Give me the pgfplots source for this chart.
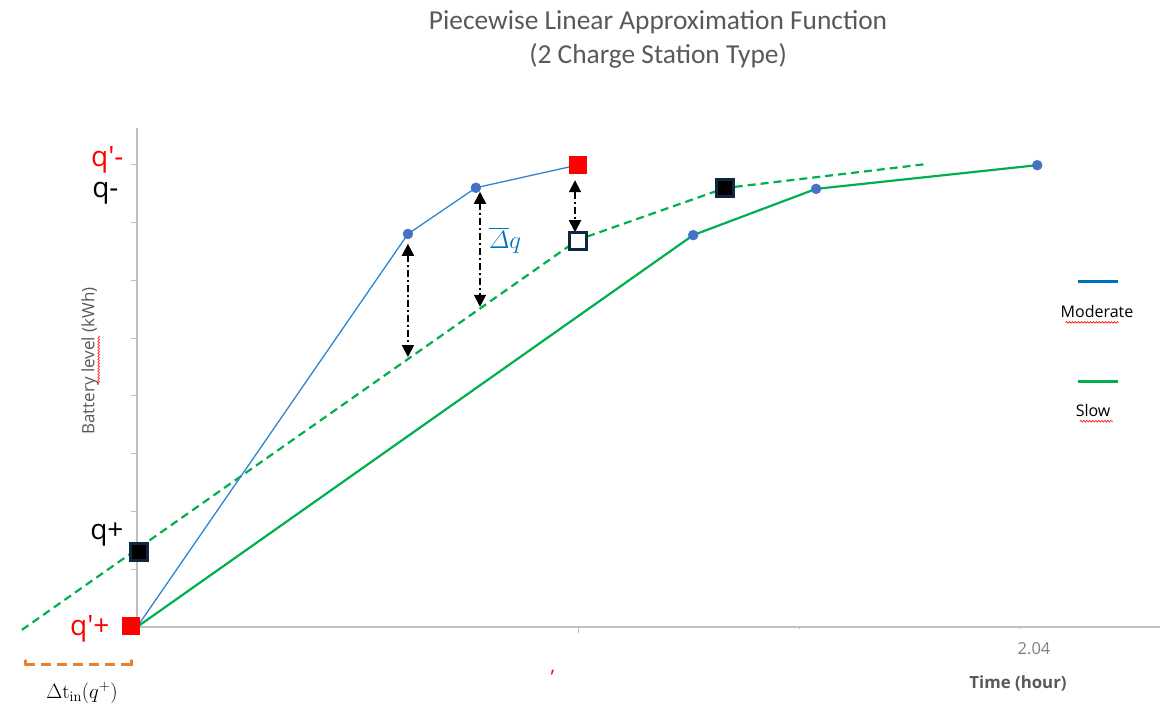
\documentclass[border=0pt]{standalone}
\usepackage{amsmath}
\usepackage[no-math]{fontspec}
\setmainfont{Open Sans}
\newfontfamily\titlefont{Carlito}
\usepackage{pgfplots}
\pgfplotsset{compat=1.18}
\usetikzlibrary{arrows.meta,decorations.pathmorphing}

\definecolor{txtgray}{HTML}{595959}
\definecolor{lblgray}{HTML}{7F7F7F}
\definecolor{axgray}{HTML}{BFBFBF}
\definecolor{modblue}{HTML}{2E86D0}
\definecolor{legblue}{HTML}{0070C0}
\definecolor{dotblue}{HTML}{4472C4}
\definecolor{slowgreen}{HTML}{00B050}
\definecolor{navy}{HTML}{0E2841}
\definecolor{bracketorange}{HTML}{ED7D31}

\tikzset{gap/.style={black, line width=1.8pt, dash pattern=on 7pt off 3pt on 2pt off 3pt,
  {Triangle[width=12pt,length=12pt]}-{Triangle[width=12pt,length=12pt]}}}

\begin{document}
\begin{tikzpicture}
\begin{axis}[
  x=432.8pt, y=57.8pt,
  xmin=0, xmax=2.364, ymin=0, ymax=8.63,
  axis x line=bottom, axis y line=left,
  axis line style={draw=axgray, line width=2pt, -},
  tick style={draw=axgray, line width=1pt},
  tick align=outside, major tick length=6pt,
  ytick={1,2,3,4,5,6,7,8}, yticklabels={},
  xtick={1.02}, xticklabels={},
  extra x ticks={1.53,2.04}, extra x tick labels={},
  extra x tick style={major tick length=1.5pt},
  clip=false,
]
% frame of the whole picture
\path (axis cs:-0.3166,10.848) rectangle (axis cs:2.3683,-1.557);

% shifted slow curve (dashed)
\addplot[slowgreen, line width=2.2pt, dash pattern=on 8pt off 5pt]
  coordinates {(-0.266,-0.05) (1.019,6.70) (1.359,7.595) (1.825,8.01)};
% slow station
\addplot[slowgreen, line width=2.2pt]
  coordinates {(0,0) (1.285,6.78) (1.569,7.58) (2.08,7.99)};
% moderate station
\addplot[modblue, line width=1.3pt]
  coordinates {(0,0) (0.626,6.80) (0.783,7.60) (1.019,7.993)};

% vertical gaps
\draw[gap] (axis cs:0.626,6.63) -- (axis cs:0.626,4.67);
\draw[gap] (axis cs:0.7925,7.53) -- (axis cs:0.7925,5.54);
\draw[gap] (axis cs:1.012,7.73) -- (axis cs:1.012,6.83);

% breakpoints
\addplot[only marks, mark=*, mark size=5pt, color=dotblue]
  coordinates {(0.626,6.80) (0.783,7.60) (1.285,6.78) (1.569,7.58) (2.08,7.99)};
\addplot[only marks, mark=square*, mark size=8.5pt, draw=red, fill=red, mark options={line width=0pt}]
  coordinates {(-0.0139,0.017) (1.019,7.993)};
\addplot[only marks, mark=square*, mark size=8.5pt, mark options={draw=navy, fill=black, line width=2.5pt}]
  coordinates {(0.005,1.30) (1.359,7.595)};
\addplot[only marks, mark=square*, mark size=8.5pt, mark options={draw=navy, fill=white, line width=2.5pt}]
  coordinates {(1.019,6.68)};

% title and labels
\node[font=\titlefont\fontsize{27.4}{34}\selectfont, text=txtgray, align=center]
  at (axis cs:1.204,10.16) {Piecewise Linear Approximation Function\\(2 Charge Station Type)};
\node[font=\fontsize{17}{19}\selectfont, text=txtgray, rotate=90]
  at (axis cs:-0.1086,4.602) {Battery level (kWh)};
\node[font=\bfseries\fontsize{16.8}{19}\selectfont, text=txtgray]
  at (axis cs:2.0356,-0.969) {Time (hour)};
\node[font=\fontsize{16.5}{18}\selectfont, text=lblgray]
  at (axis cs:2.0726,-0.381) {2.04};
\node[font=\fontsize{20}{22}\selectfont, text=red] at (axis cs:0.961,-0.796) {,};

% q labels
\node[font=\fontsize{28}{30}\selectfont, text=red, anchor=east] at (axis cs:-0.0231,8.08) {q\textquotesingle-};
\node[font=\fontsize{28}{30}\selectfont, text=black, anchor=east] at (axis cs:-0.0347,7.509) {q-};
\node[font=\fontsize{28}{30}\selectfont, text=black, anchor=east] at (axis cs:-0.0231,1.592) {q+};
\node[font=\fontsize{28}{30}\selectfont, text=red, anchor=east] at (axis cs:-0.0555,-0.035) {q\textquotesingle+};

% delta t bracket
\draw[bracketorange, line width=3pt, dash pattern=on 10pt off 6pt]
  (axis cs:-0.2588,-0.657) -- (axis cs:-0.01386,-0.657);
\draw[bracketorange, line width=3pt, line cap=round]
  (axis cs:-0.2588,-0.580) -- (axis cs:-0.2588,-0.657);
\draw[bracketorange, line width=3pt, line cap=round]
  (axis cs:-0.01386,-0.580) -- (axis cs:-0.01386,-0.657) -- (axis cs:-0.03,-0.657);
\node[font=\fontsize{22}{24}\selectfont] at (axis cs:-0.1271,-1.142) {$\Delta\mathrm{t}_{\mathrm{in}}(q^{+})$};
\node[font=\fontsize{29}{31}\selectfont, text=legblue] at (axis cs:0.8503,6.696) {$\overline{\varDelta}q$};

% legend
\draw[legblue, line width=3pt] (axis cs:2.174,5.986) -- (axis cs:2.267,5.986);
\draw[slowgreen, line width=3pt] (axis cs:2.174,4.239) -- (axis cs:2.267,4.239);
\node[font=\fontsize{16}{18}\selectfont] at (axis cs:2.218,5.467) {Moderate};
\node[font=\fontsize{16}{18}\selectfont] at (axis cs:2.209,3.754) {Slow};
\draw[red, line width=0.6pt, decorate, decoration={snake, amplitude=0.8pt, segment length=3pt}]
  (axis cs:2.1455,5.27) -- (axis cs:2.2687,5.27);
\draw[red, line width=0.6pt, decorate, decoration={snake, amplitude=0.8pt, segment length=3pt}]
  (axis cs:2.1785,3.56) -- (axis cs:2.2547,3.56);
\draw[red, line width=0.6pt, decorate, decoration={snake, amplitude=0.8pt, segment length=3pt}]
  (axis cs:-0.0887,4.20) -- (axis cs:-0.0887,5.04);
\end{axis}
\end{tikzpicture}
\end{document}
